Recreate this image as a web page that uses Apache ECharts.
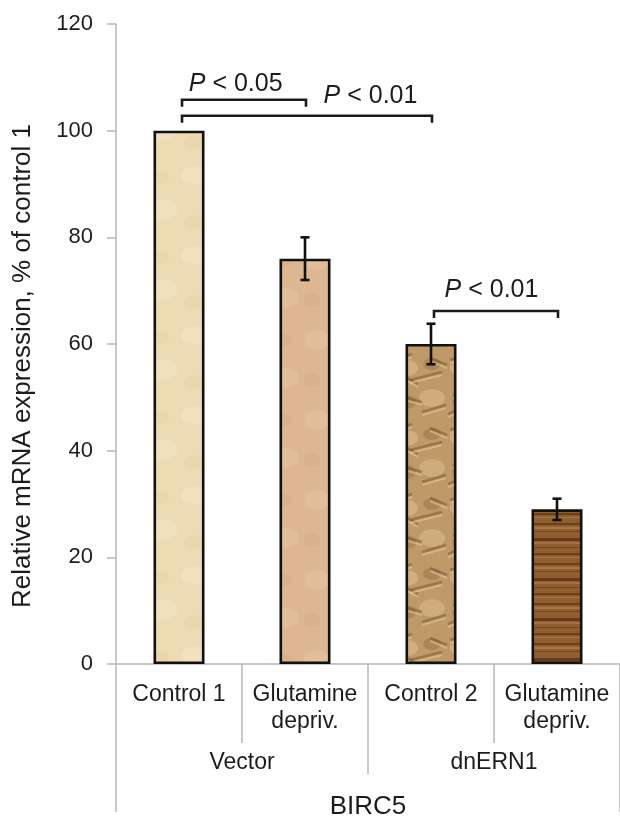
<!DOCTYPE html>
<html>
<head>
<meta charset="utf-8">
<script src="https://cdn.jsdelivr.net/npm/echarts/dist/echarts.min.js"></script>
<style>
html,body{margin:0;padding:0;background:#fff;}
#chart{width:620px;height:818px;}
</style>
</head>
<body>
<div id="chart"></div>
<script>
// ---- data ----
const categories = ['Control 1', 'Glutamine\ndepriv.', 'Control 2', 'Glutamine\ndepriv.'];
const groups = ['Vector', 'dnERN1'];
const gene = ['BIRC5'];
const values = [100, 76, 60, 29];
const errLow = [null, 72, 56.2, 27];
const errHigh = [null, 80, 63.8, 31];
const yTicks = [0, 20, 40, 60, 80, 100, 120];
const yName = 'Relative mRNA expression, % of control 1';
// brackets: from category, to category, bracket level, label position (category units), label level
const bracketFrom = [0, 0, 2];
const bracketTo = [1, 2, 3];
const bracketY = [105.8, 102.8, 66.2];
const pLabels = ['P < 0.05', 'P < 0.01', 'P < 0.01'];
const pLabelX = [0.45, 1.52, 2.48];
const pLabelY = [108.8, 106.4, 70.1];

// ---- textures (style only) ----
function tex(w, h, draw) {
  const c = document.createElement('canvas');
  c.width = w; c.height = h;
  draw(c.getContext('2d'), w, h);
  return c;
}
function blob(g, x, y, rx, ry, col) {
  g.fillStyle = col; g.beginPath(); g.ellipse(x, y, rx, ry, 0, 0, Math.PI * 2); g.fill();
}
const tex1 = tex(60, 80, (g, w, h) => {
  g.fillStyle = '#eddbb5'; g.fillRect(0, 0, w, h);
  blob(g, 15, 15, 14, 9, 'rgba(246,236,212,0.35)');
  blob(g, 42, 50, 16, 11, 'rgba(246,236,212,0.3)');
  blob(g, 40, 18, 9, 6, 'rgba(222,196,150,0.2)');
  blob(g, 14, 62, 10, 7, 'rgba(222,196,150,0.2)');
});
const tex2 = tex(60, 80, (g, w, h) => {
  g.fillStyle = '#ddb792'; g.fillRect(0, 0, w, h);
  blob(g, 18, 20, 14, 10, 'rgba(234,204,170,0.35)');
  blob(g, 44, 58, 15, 10, 'rgba(234,204,170,0.3)');
  blob(g, 45, 20, 8, 6, 'rgba(200,160,118,0.2)');
  blob(g, 12, 60, 9, 7, 'rgba(200,160,118,0.2)');
});
const tex3 = tex(56, 70, (g, w, h) => {
  g.fillStyle = '#bf9968'; g.fillRect(0, 0, w, h);
  blob(g, 14, 18, 12, 8, 'rgba(225,195,150,0.5)');
  blob(g, 40, 48, 13, 9, 'rgba(225,195,150,0.45)');
  blob(g, 40, 14, 9, 6, 'rgba(140,100,60,0.35)');
  blob(g, 14, 52, 10, 7, 'rgba(140,100,60,0.35)');
  const dark = [[2,10,20,4],[18,30,50,22],[5,45,30,52],[30,62,54,55],[38,8,55,15],[8,24,26,34],[0,64,14,58]];
  g.lineWidth = 2.5; g.strokeStyle = 'rgba(110,75,40,0.45)';
  dark.forEach(l => { g.beginPath(); g.moveTo(l[0], l[1]); g.lineTo(l[2], l[3]); g.stroke(); });
  g.lineWidth = 2; g.strokeStyle = 'rgba(238,212,168,0.45)';
  dark.forEach(l => { g.beginPath(); g.moveTo(l[0], l[1] + 3); g.lineTo(l[2], l[3] + 3); g.stroke(); });
});
const tex4 = tex(8, 40, (g, w, h) => {
  g.fillStyle = '#8f5e2e'; g.fillRect(0, 0, w, h);
  [[3,2,'#6a3f1a'],[11,1,'#744520'],[18,3,'#66391a'],[27,1,'#744520'],[33,2,'#6a3f1a'],
   [7,2,'#a97742'],[22,2,'#a3703d'],[37,1,'#a97742']].forEach(s => { g.fillStyle = s[2]; g.fillRect(0, s[0], w, s[1]); });
});
const fills = [tex1, tex2, tex3, tex4].map(c => ({ image: c, repeat: 'repeat' }));

// ---- chart ----
const FONT = "'Liberation Sans', Arial, sans-serif";
const TXT = '#1f1b1c';
const AX = '#b9b5b1';
const chart = echarts.init(document.getElementById('chart'), null, { renderer: 'canvas' });

const errData = [];
values.forEach((v, i) => { if (errLow[i] != null) errData.push([i, errLow[i], errHigh[i]]); });
const bracketData = bracketFrom.map((f, i) => [f, bracketTo[i], bracketY[i], pLabelX[i], pLabelY[i], i]);

chart.setOption({
  animation: false,
  backgroundColor: '#fff',
  grid: { left: 116, right: 0, top: 24, bottom: 154, containLabel: false, outerBoundsMode: 'none' },
  xAxis: [
    {
      type: 'category', data: categories, position: 'bottom', boundaryGap: true,
      axisLine: { show: true, lineStyle: { color: AX, width: 1.5 } },
      axisTick: { show: true, length: 79, lineStyle: { color: AX, width: 1.5 } },
      axisLabel: { interval: 0, margin: 17, fontSize: 23, lineHeight: 27, color: TXT, fontFamily: FONT }
    },
    {
      type: 'category', data: groups, position: 'bottom', boundaryGap: true,
      axisLine: { show: false },
      axisTick: { show: true, length: 110, lineStyle: { color: AX, width: 1.5 } },
      axisLabel: { interval: 0, margin: 85, fontSize: 23, lineHeight: 27, color: TXT, fontFamily: FONT }
    },
    {
      type: 'category', data: gene, position: 'bottom', boundaryGap: true,
      axisLine: { show: false },
      axisTick: { show: true, length: 148, lineStyle: { color: AX, width: 1.5 } },
      axisLabel: { interval: 0, margin: 128, fontSize: 26, lineHeight: 30, color: TXT, fontFamily: FONT }
    }
  ],
  yAxis: {
    type: 'value', min: yTicks[0], max: yTicks[yTicks.length - 1], interval: yTicks[1] - yTicks[0],
    axisLine: { show: true, lineStyle: { color: AX, width: 1.5 } },
    axisTick: { show: true, inside: false, length: 9, lineStyle: { color: AX, width: 1.5 } },
    splitLine: { show: false },
    axisLabel: { margin: 23, fontSize: 22, color: TXT, fontFamily: FONT }
  },
  graphic: [{
    type: 'text', x: 23, y: 366, rotation: Math.PI / 2,
    style: { text: yName, font: '26px ' + FONT, fill: TXT, align: 'center', verticalAlign: 'middle' }
  }],
  series: [
    {
      type: 'bar', xAxisIndex: 0, barWidth: 51,
      data: values.map((v, i) => ({ value: v, itemStyle: { color: fills[i], borderColor: '#111', borderWidth: 2.6 } })),
      z: 2
    },
    {
      type: 'custom', xAxisIndex: 0, z: 5,
      encode: { x: 0, y: [1, 2] },
      data: errData,
      renderItem: function (params, api) {
        const i = api.value(0);
        const p1 = api.coord([i, api.value(2)]);
        const p2 = api.coord([i, api.value(1)]);
        const w = 4.5, st = { stroke: '#111', lineWidth: 2.6 };
        return {
          type: 'group', children: [
            { type: 'line', shape: { x1: p1[0], y1: p1[1], x2: p2[0], y2: p2[1] }, style: st },
            { type: 'line', shape: { x1: p1[0] - w, y1: p1[1], x2: p1[0] + w, y2: p1[1] }, style: st },
            { type: 'line', shape: { x1: p2[0] - w, y1: p2[1], x2: p2[0] + w, y2: p2[1] }, style: st }
          ]
        };
      }
    },
    {
      type: 'custom', xAxisIndex: 0, z: 6,
      encode: { x: [0, 1], y: [2, 4] },
      data: bracketData,
      renderItem: function (params, api) {
        const a = api.coord([api.value(0), api.value(2)]);
        const b = api.coord([api.value(1), api.value(2)]);
        const f = Math.floor(api.value(3));
        const c0 = api.coord([f, api.value(4)]);
        const c1 = api.coord([f + 1, api.value(4)]);
        const lx = c0[0] + (c1[0] - c0[0]) * (api.value(3) - f);
        const ly = c0[1];
        const txt = pLabels[api.value(5)];
        const tk = 7;
        return {
          type: 'group', children: [
            { type: 'polyline', shape: { points: [[a[0] + 3, a[1] + tk], [a[0] + 3, a[1]], [b[0] + 1, b[1]], [b[0] + 1, b[1] + tk]] },
              style: { stroke: '#1a1a1a', lineWidth: 2.6, fill: null } },
            { type: 'text', x: lx, y: ly,
              style: {
                text: '{i|' + txt.charAt(0) + '}' + txt.slice(1),
                font: '25px ' + FONT, fill: TXT, align: 'center', verticalAlign: 'middle',
                rich: { i: { fontStyle: 'italic', fontSize: 25, fontFamily: FONT, fill: TXT } }
              } }
          ]
        };
      }
    }
  ]
});
</script>
</body>
</html>
